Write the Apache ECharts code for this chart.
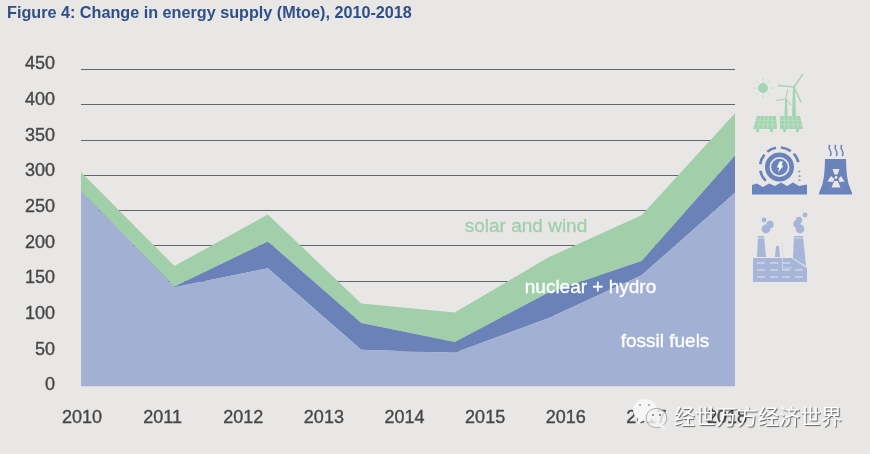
<!DOCTYPE html>
<html>
<head>
<meta charset="utf-8">
<style>html,body{margin:0;padding:0;background:#e8e7e6}#c{width:870px;height:454px}</style>
<script src="https://cdn.jsdelivr.net/npm/echarts@6/dist/echarts.min.js"></script>
</head>
<body>
<div id="c"></div>
<script>
const yearLabels = ['2010','2011','2012','2013','2014','2015','2016','2017','2018'];
const pointIds = ['p1','p2','p3','p4','p5','p6','p7','p8'];
const fossilFuels = [276, 141, 168, 52, 48, 97, 158, 275];
const nuclearHydro = [1, 1, 38, 38, 15, 36, 20, 53];
const solarWind = [27, 29, 38, 28, 42, 50, 65, 60];
const yTicks = [0, 50, 100, 150, 200, 250, 300, 350, 400, 450];

const BG = '#e8e7e6', FOSSIL = '#a2b0d4', NUCLEAR = '#6a82b7', SOLAR = '#a1cfaa', ICON_G = '#a3d5b0', ICON_B = '#6a84bb', ICON_F = '#a7b5d8';
const TXT = '#464646';

function poly(points, fill, z) { return {type:'polygon', silent:true, z:z||20, shape:{points}, style:{fill}}; }
function line(points, stroke, w, z) { return {type:'polyline', silent:true, z:z||20, shape:{points}, style:{stroke, lineWidth:w, fill:null}}; }
function circ(cx, cy, r, fill, z) { return {type:'circle', silent:true, z:z||20, shape:{cx,cy,r}, style:{fill}}; }
function arc(cx, cy, r, a0, a1, stroke, w, z) { return {type:'arc', silent:true, z:z||20, shape:{cx,cy,r,startAngle:a0,endAngle:a1}, style:{stroke, lineWidth:w, fill:null}}; }
function label(text, x, y, size, fill) {
  return {type:'text', silent:true, z:30, x, y, style:{text, fill, stroke:fill, lineWidth:.35, fontFamily:'Liberation Sans', fontSize:size, textAlign:'center', textVerticalAlign:'middle'}};
}

const icons = [];
// sun
icons.push(circ(763, 88, 5, ICON_G));
for (let i = 0; i < 8; i++) {
  const a = i * Math.PI / 4;
  icons.push(line([[763+Math.cos(a)*7.5, 88+Math.sin(a)*7.5],[763+Math.cos(a)*10, 88+Math.sin(a)*10]], '#bcdcc4', 1));
}
// turbines
icons.push(poly([[793,87],[795,87],[796,116],[792,116]], ICON_G));
icons.push(line([[794,87],[803,74]], ICON_G, 1.4), line([[794,87],[778,85.5]], ICON_G, 1.4), line([[794,87],[801,102]], ICON_G, 1.4));
icons.push(poly([[785,99],[787,99],[787.5,116],[784.5,116]], ICON_G));
icons.push(line([[786,99],[787.5,89]], ICON_G, 1.1), line([[786,99],[776,100.5]], ICON_G, 1.1), line([[786,99],[791,105]], ICON_G, 1.1));
// panels
[[[757,116],[776,116],[777,129],[753,129]], [[780,116],[800,116],[803,129],[780,129]]].forEach(p => {
  icons.push(poly(p, ICON_G));
  const tl=p[0], tr=p[1], br=p[2], bl=p[3];
  for (let i = 1; i < 3; i++) {
    const t=i/3;
    icons.push(line([[tl[0]+(bl[0]-tl[0])*t, tl[1]+(bl[1]-tl[1])*t],[tr[0]+(br[0]-tr[0])*t, tr[1]+(br[1]-tr[1])*t]], '#cfe4d5', .5));
  }
  for (let i = 1; i < 5; i++) {
    const t=i/5;
    icons.push(line([[tl[0]+(tr[0]-tl[0])*t, tl[1]],[bl[0]+(br[0]-bl[0])*t, bl[1]]], '#cfe4d5', .5));
  }
  icons.push(poly([[bl[0]+3,129],[bl[0]+6,129],[bl[0]+6,132],[bl[0]+3,132]], ICON_G));
  icons.push(poly([[br[0]-7,129],[br[0]-4,129],[br[0]-4,132],[br[0]-7,132]], ICON_G));
});
// hydro
icons.push(circ(779.5, 167, 14.5, ICON_B), circ(779.5, 167, 10, BG), circ(779.5, 167, 8.3, ICON_B));
icons.push(poly([[779.5,161.5],[783,161.5],[781.3,165.5],[783.5,165.5],[778,172.5],[779.3,167.5],[777,167.5]], '#ffffff'));
[[-3.0,-2.45],[-2.25,-1.75],[-1.5,-0.95],[-0.75,-0.25],[2.35,2.95]].forEach(a => {
  icons.push(arc(779.5, 167, 19.5, a[0], a[1], ICON_B, 2.6));
});
icons.push(line([[799,171],[799.5,172.2]], ICON_B, 2), line([[799.5,175.5],[799.5,176.7]], ICON_B, 2), line([[799.5,179.5],[799.5,180.7]], ICON_B, 2));
icons.push(poly([[752,185],[757,183.5],[763,187],[769,183.5],[775,186],[781,182.5],[787,186],[793,182.5],[799,186],[807,184.5],[807,194.5],[752,194.5]], ICON_B));
// cooling tower
icons.push(poly([[825,159],[846,159],[846.3,168],[847,176],[848.5,184],[852,193],[852,194.5],[819,194.5],[819,193],[822.5,184],[824,176],[824.7,168]], ICON_B));
icons.push(poly([[832.5,169],[839.5,169],[837.5,174.5],[834.5,174.5]], BG), poly([[827.5,181.5],[831,176],[834.5,179],[833,182]], BG), poly([[838.5,179],[841,176],[844.5,181.5],[839.5,182]], BG), circ(836,177.5,1.4,BG), poly([[834.2,181],[837.8,181],[840.5,187.5],[831.5,187.5]], BG));
[830,836,842].forEach(x => {
  icons.push({type:'bezierCurve', silent:true, z:20, shape:{x1:x,y1:145,cpx1:x-4,cpy1:148,cpx2:x+4,cpy2:152,x2:x,y2:156}, style:{stroke:ICON_B, lineWidth:1.5, fill:null}});
});
// factory
icons.push(poly([[753,258],[792,258],[807,268],[807,282],[753,282]], ICON_F));
icons.push(poly([[758,236],[764,236],[766,257],[757,257]], ICON_F), poly([[776,246],[779,246],[780,257],[775,257]], ICON_F), poly([[794,236],[803,236],[806,266],[793,258]], ICON_F));
icons.push(line([[758,238],[764,238]], BG, .8), line([[794,238],[803,238]], BG, .8));
[[764,220,2.4],[766,229,4.4],[770,224.5,3.7],[805,215,2.4],[799,220,3.2],[797,224,3.7],[800,229,4.4]].forEach(c => icons.push(circ(c[0],c[1],c[2],ICON_F)));
[263,270,277].forEach((y,row) => {
  [[757,765],[770,778],[782,790],[795,803]].forEach((s,i) => {
    if (row===0 && i===3) return;
    icons.push(line([[s[0],y],[s[1],y]], '#e4e6ee', 1, 21));
  });
});
icons.push(line([[782.5,243],[782.5,268],[792,268]], '#d5d8e2', .8, 21), line([[792,258],[807,268]], '#d5d8e2', .8, 21));
// watermark logo
icons.push({type:'ellipse', silent:true, z:40, shape:{cx:645,cy:410,rx:12,ry:11}, style:{fill:'#f6f6f6'}});
icons.push(poly([[638,417],[644,420],[638,424]], '#f6f6f6', 40));
icons.push({type:'ellipse', silent:true, z:41, shape:{cx:656.5,cy:418,rx:10.3,ry:9.6}, style:{fill:'rgba(244,244,244,.82)', stroke:'#8c8c8c', lineWidth:.7}});
icons.push(poly([[659,426],[664,425],[665,430]], '#f2f2f2', 41));
icons.push(circ(640,405,1,'#999',42), circ(649,405,1,'#999',42), circ(653,415,.9,'#666',42), circ(660,415,.9,'#666',42));

const texts = [
  {type:'text', silent:true, z:30, x:7, y:14, style:{text:'Figure 4: Change in energy supply (Mtoe), 2010-2018', fill:'#2f4f88', fontFamily:'Liberation Sans', fontSize:16.2, fontWeight:'bold', textVerticalAlign:'middle'}},
  label('solar and wind', 526, 227, 19, SOLAR),
  label('nuclear + hydro', 590.5, 288, 19, '#ffffff'),
  label('fossil fuels', 665, 342, 19, '#ffffff'),
  {type:'text', silent:true, z:43, x:758, y:416, style:{text:'经世万方经济世界', fill:'#ffffff', fontFamily:'Noto Sans CJK SC', fontSize:21, textAlign:'center', textVerticalAlign:'middle', textShadowColor:'rgba(40,40,40,.7)', textShadowBlur:1, textShadowOffsetX:1, textShadowOffsetY:1}}
];

function area(name, values, color, z) {
  return {name, type:'line', stack:'total', data:values, xAxisIndex:0, yAxisIndex:0, symbol:'none', showSymbol:false, z,
    lineStyle:{width:0}, itemStyle:{color}, areaStyle:{color, opacity:1}, silent:true};
}
const tickFont = {color:TXT, fontFamily:'Liberation Sans', fontSize:18, textBorderColor:TXT, textBorderWidth:.35};

const chart = echarts.init(document.getElementById('c'), null, {renderer:'canvas'});
chart.setOption({
  animation:false,
  backgroundColor:BG,
  grid:[
    {left:81, top:69.5, width:654, height:317},
    {left:82, top:64.5, width:645, height:321}
  ],
  xAxis:[
    {gridIndex:0, type:'category', data:pointIds, boundaryGap:false, axisLine:{show:false}, axisTick:{show:false}, axisLabel:{show:false}, splitLine:{show:false}},
    {gridIndex:1, type:'category', data:yearLabels, boundaryGap:false, axisLine:{show:false}, axisTick:{show:false}, splitLine:{show:false},
     axisLabel:Object.assign({show:true, interval:0, hideOverlap:false, margin:24}, tickFont)}
  ],
  yAxis:[
    {gridIndex:0, type:'value', min:0, max:450, interval:50, axisLine:{show:false}, axisTick:{show:false}, axisLabel:{show:false},
     splitLine:{show:true, showMinLine:false, lineStyle:{color:'#63676b', width:1}}},
    {gridIndex:1, type:'value', min:yTicks[0], max:yTicks[yTicks.length-1], interval:50, axisLine:{show:false}, axisTick:{show:false}, splitLine:{show:false},
     axisLabel:Object.assign({show:true, margin:27}, tickFont)}
  ],
  series:[
    area('fossil fuels', fossilFuels, FOSSIL, 4),
    area('nuclear + hydro', nuclearHydro, NUCLEAR, 3),
    area('solar and wind', solarWind, SOLAR, 2)
  ],
  graphic:{elements:icons.concat(texts)}
});
</script>
</body>
</html>
